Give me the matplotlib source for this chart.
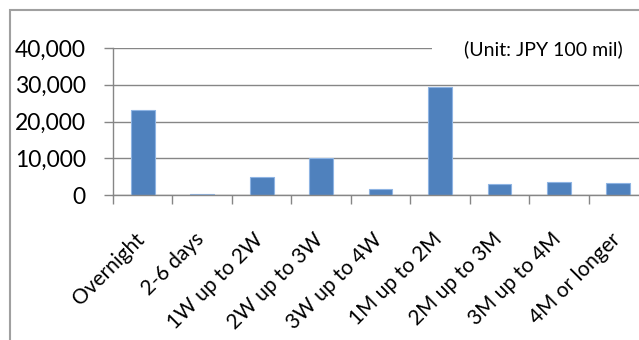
import matplotlib
matplotlib.use('Agg')
from matplotlib import pyplot as plt
from matplotlib.patches import Rectangle
from matplotlib.ticker import FuncFormatter
from matplotlib.transforms import ScaledTranslation

categories = ['Overnight', '2-6 days', '1W up to 2W', '2W up to 3W', '3W up to 4W',
              '1M up to 2M', '2M up to 3M', '3M up to 4M', '4M or longer']
amounts = [23200, 300, 4850, 10050, 1550, 29300, 3100, 3450, 3200]
y_ticks = [0, 10000, 20000, 30000, 40000]
unit_label = '(Unit: JPY 100 mil)'

plt.rcParams['font.family'] = ['Lato', 'DejaVu Sans']

fig = plt.figure(figsize=(6.39, 3.40), dpi=100)
ax = fig.add_axes([113 / 639, 145 / 340, 535 / 639, 147 / 340])

# outer chart frame (cut off on the right and bottom)
fig.patches.append(Rectangle((9.5 / 639, -0.1), 1.1, 330 / 340 + 0.1,
                             transform=fig.transFigure, fill=False,
                             edgecolor='#a0a0a0', linewidth=1.5))

x = list(range(len(categories)))
ax.bar(x, amounts, width=0.4, color='#4f81bd', edgecolor='#8eb4e3', linewidth=0.8, zorder=2)

ax.set_xlim(-0.5, len(categories) - 0.5)
ax.set_ylim(0, 40000)
ax.set_yticks(y_ticks)
ax.yaxis.set_major_formatter(FuncFormatter(lambda v, p: '{:,.0f}'.format(v)))
ax.set_axisbelow(True)
ax.yaxis.grid(True, color='#868686', linewidth=1.0)

for s in ['top', 'right']:
    ax.spines[s].set_visible(False)
for s in ['left', 'bottom']:
    ax.spines[s].set_color('#868686')
    ax.spines[s].set_linewidth(1.0)

ax.tick_params(axis='y', direction='out', length=6.5, width=1, color='#868686',
               pad=13, labelsize=16.5, labelcolor='black')
ax.set_xticks(x)
ax.set_xticks([i - 0.5 for i in range(len(categories) + 1)], minor=True)
ax.tick_params(axis='x', which='major', length=0, pad=21, labelsize=15)
ax.tick_params(axis='x', which='minor', direction='out', length=6.5, width=1, color='#868686')
ax.set_xticklabels(categories, rotation=45, ha='right', va='top', rotation_mode='anchor')
shift = ScaledTranslation(-8 / 100, -5 / 100, fig.dpi_scale_trans)
for lab in ax.get_xticklabels():
    lab.set_transform(lab.get_transform() + shift)

# unit note sits on a white box hiding the top gridline
ax.add_patch(Rectangle((0.596, 0.95), 0.5, 0.1, transform=ax.transAxes,
                       facecolor='white', edgecolor='none', clip_on=False, zorder=3))
ax.text(0.656, (195 - 49.5) / 147, unit_label, transform=ax.transAxes,
        ha='left', va='center', fontsize=14, zorder=4)

fig.savefig('out.png', dpi=100)
